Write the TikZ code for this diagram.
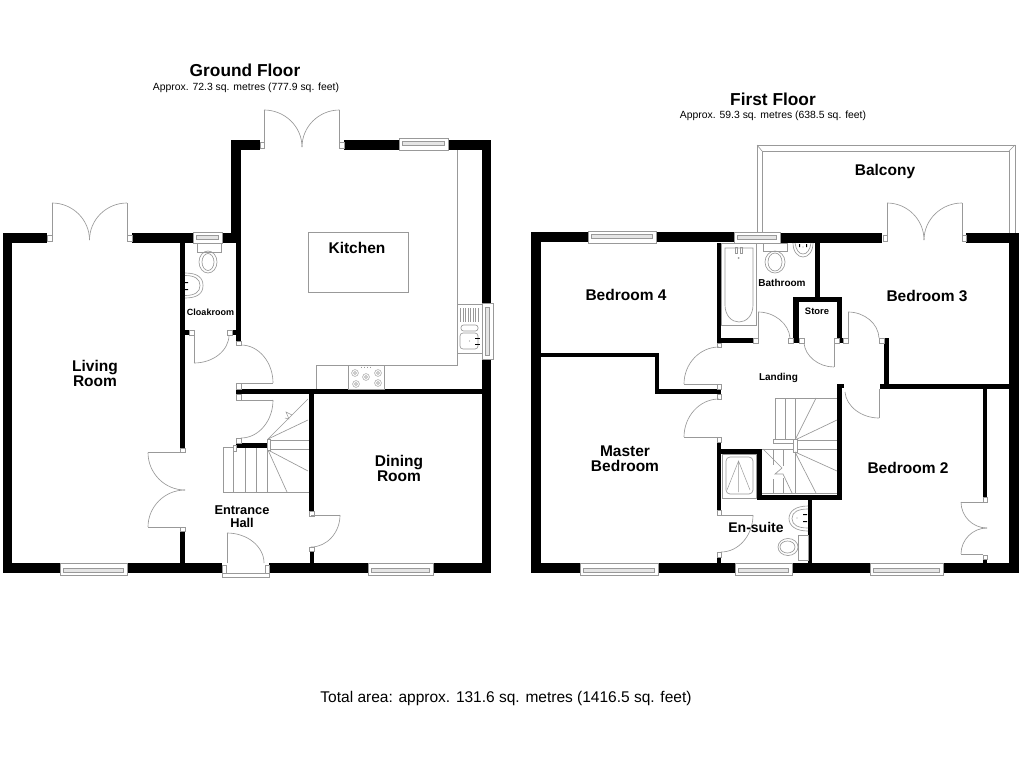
\documentclass[tikz,border=0pt]{standalone}
\usepackage{fontspec}
\setmainfont{Liberation Sans}
\usetikzlibrary{calc}
\definecolor{fx}{gray}{0.6}
\tikzset{
  every picture/.style={x=1pt,y=-1pt},
  fix/.style={draw=fx,line width=0.65pt,fill=none},
  fixw/.style={draw=fx,line width=0.65pt,fill=white},
  lbl/.style={inner sep=0pt,align=center,font=\bfseries\fontsize{15.5}{15}\selectfont},
}
\newcommand{\wall}[4]{\fill[black] (#1,#2) rectangle (#3,#4);}
\newcommand{\stub}[4]{\draw[fixw] (#1,#2) rectangle (#3,#4);}
\newcommand{\qc}[6]{\draw[fix] (#1,#2) .. controls ($(#1,#2)!.55!(#3,#4)$) and ($(#5,#6)!.55!(#3,#4)$) .. (#5,#6);}
\newcommand{\sg}[4]{\draw[fix] (#1,#2) -- (#3,#4);}
\newcommand{\hwin}[5]{\draw[fixw] (#1,#3) rectangle (#2,#4);
  \draw[fix,fill=black!10] ($(#1,#3)+(3.5,#5)$) rectangle ($(#2,#3)+(-3.5,#5+4)$);}
\begin{document}
\begin{tikzpicture}
\useasboundingbox (0,0) rectangle (1024,768);
\fill[white] (0,0) rectangle (1024,768);

% ---------- GROUND FLOOR walls
\wall{3}{233}{47}{243}
\wall{3}{233}{12}{573}
\wall{132}{233}{236}{243}
\wall{231}{140}{241}{243}
\wall{236}{243}{241}{341}
\wall{231}{140}{260}{150}
\wall{344}{140}{491}{150}
\wall{482}{140}{491}{573}
\wall{3}{563}{222}{573}
\wall{269}{563}{491}{573}
\wall{180}{243}{185}{448}
\wall{180}{531}{185}{563}
\wall{185}{330}{189}{335}
\wall{232}{330}{241}{335}
\wall{236}{389}{482}{394}
\wall{236}{443}{267}{448}
\wall{309}{389}{314}{511}
\wall{310}{551}{314}{563}

% windows
\hwin{193}{222}{232}{243}{3}
\hwin{399}{448}{138}{150}{3}
\hwin{60}{127}{563}{575}{5}
\hwin{368}{433}{563}{575}{5}
% side kitchen window
\draw[fixw] (482,303) rectangle (493,359);
\draw[fix,fill=black!10] (485,307) rectangle (489,355);

% living french doors
\stub{47}{235}{52}{241}\stub{127}{235}{132}{241}
\sg{52}{241}{52}{203}\sg{127}{241}{127}{203}
\qc{52}{203}{89.5}{203}{89.5}{240}\qc{127}{203}{89.5}{203}{89.5}{240}
% kitchen french doors
\stub{260}{142}{264}{148}\stub{339.5}{142}{344}{148}
\sg{264}{148}{264}{110}\sg{339.5}{148}{339.5}{110}
\qc{264}{110}{302}{110}{302}{147}\qc{339.5}{110}{302}{110}{302}{147}
% living/hall double doors
\stub{180}{448}{185}{452}\stub{180}{527}{185}{531}
\sg{180}{452.5}{148}{452.5}\sg{180}{527}{148}{527}
\qc{148}{452.5}{148}{490}{185}{490}\qc{148}{527}{148}{490}{185}{490}
% front door
\draw[fixw] (222,573) rectangle (269,577);
\stub{222}{565}{226}{573}\stub{265}{565}{269}{573}
\sg{227}{563}{227}{533}
\qc{227}{533}{264}{533}{264}{563}
% cloakroom door
\stub{189}{330}{194}{335}\stub{227}{330}{232}{335}
\sg{194}{335}{194}{363}
\qc{194}{363}{229}{363}{229}{335}
% kitchen door
\stub{236}{341}{241}{345}\stub{236}{383}{241}{389}
\sg{241}{383}{273}{383}
\qc{241}{345}{273}{345}{273}{383}
% lower door under stairs
\stub{236}{394}{241}{400}\stub{236}{438}{241}{443}
\sg{241}{400}{273}{400}
\qc{273}{400}{273}{438}{241}{438}
% dining door
\stub{309}{511}{314}{516}\stub{309}{547}{314}{551}
\sg{311}{515}{340}{515}
\qc{340}{515}{340}{547}{311}{547}

% stairs ground
\draw[fix] (233,447) -- (223,447) -- (223,492) -- (309,492);
\sg{233}{448}{233}{492}\sg{245}{448}{245}{492}\sg{256}{448}{256}{492}\sg{267}{448}{267}{492}
\sg{268}{440}{309}{440}\sg{268}{449}{309}{449}
\sg{268}{450}{287}{492}\sg{268}{450}{308}{471}
\sg{268}{439}{308}{420}\sg{268}{439}{308}{399}
\stub{267}{439}{270}{450}\stub{233}{445}{236}{451}
\draw[fix,line width=0.5pt] (285,418) -- (289,419) -- (286,412) -- (292,415);
% kitchen units
\draw[fix] (457,150) -- (457,365) -- (316,365) -- (316,389);
\draw[fix] (308,232) rectangle (408,292);
\draw[fix] (348,365) rectangle (384,389);
\foreach \a/\b in {355/373,366/377,378/373,356/384,378/383}{
  \draw[fix,line width=0.5pt] (\a,\b) circle[radius=3.4];
  \draw[fix,line width=0.5pt] (\a,\b) circle[radius=1.5];}
\foreach \a in {361,364,367,370}{\draw[fix,line width=0.5pt] (\a,366.5) -- (\a,367.5);}
% sink
\draw[fix] (457,304) rectangle (482,353);
\foreach \a in {460.5,463,465.5,468,470.5,473,475.5,478}{\draw[fix,line width=0.5pt] (\a,308) -- (\a,322);}
\draw[fix,rounded corners=2.5pt] (461,325) rectangle (478,331);
\draw[fix,rounded corners=3pt] (460,333) rectangle (478,349);
\draw[black,line width=0.8pt] (475,338) -- (480,338) (475,344) -- (480,344);
\fill[fx] (469.5,341) circle[radius=0.7];
% cloakroom WC
\draw[fixw] (197,243) rectangle (221,252);
\draw[fix] (208,262) ellipse[x radius=9,y radius=11];
\draw[fix] (208,262) ellipse[x radius=6,y radius=8.5];
% cloakroom basin
\draw[fix] (185,273) .. controls (198,273) and (203,278) .. (203,285.5) .. controls (203,293) and (198,298) .. (185,298);
\draw[fix] (185,275.5) .. controls (195,275.5) and (200,279) .. (200,285.5) .. controls (200,292) and (195,295.5) .. (185,295.5);
\fill[black] (185,282) rectangle (188,283) (185,289) rectangle (188,290);

% ---------- FIRST FLOOR balcony
\draw[fix] (757,233) -- (757,145) -- (1015,145) -- (1015,233);
\draw[fix] (762,233) -- (762,151) -- (1009,151) -- (1009,233);
\sg{757}{145}{762}{151}\sg{1015}{145}{1009}{151}

% first-floor walls
\wall{531}{232}{734}{242}
\wall{531}{232}{541}{573}
\wall{780}{233}{882}{243}
\wall{966}{233}{1019}{243}
\wall{1009}{233}{1019}{573}
\wall{531}{563}{1019}{573}
\wall{541}{353}{659}{357}
\wall{655}{353}{659}{394}
\wall{655}{389}{721}{394}
\wall{717}{243}{721}{343}
\wall{717}{338}{753}{343}
\wall{815}{243}{820}{297}
\wall{793}{297}{842}{302}
\wall{793}{297}{799}{343}
\wall{837}{297}{842}{338}
\wall{839}{338}{843}{343}
\wall{884}{338}{889}{389}
\wall{880}{384}{1009}{389}
\wall{983}{389}{987}{497}
\wall{983}{559}{987}{563}
\wall{837}{384}{842}{500}
\wall{837}{384}{844}{388}
\wall{717}{442}{721}{510}
\wall{717}{449}{762}{454}
\wall{757}{449}{762}{500}
\wall{757}{495}{842}{500}
\wall{808}{500}{812}{563}
\wall{717}{557}{721}{563}

% windows
\hwin{588}{656}{231}{243}{3}
\hwin{734}{780}{232}{243}{3}
\hwin{580}{658}{563}{575}{5}
\hwin{735}{792}{563}{575}{5}
\hwin{870}{943}{563}{575}{5}

% bedroom 3 french doors
\stub{883}{235}{887}{241}\stub{962}{235}{966}{241}
\sg{887}{241}{887}{203}\sg{962}{241}{962}{203}
\qc{887}{203}{924}{203}{924}{240}\qc{962}{203}{924}{203}{924}{240}
% bedroom 4 door
\stub{717}{343}{721}{347}\stub{717}{384}{721}{389}
\sg{721}{384}{684}{384}
\qc{684}{384}{684}{347}{719}{347}
% master door
\stub{717}{394}{721}{399}\stub{717}{437}{721}{442}
\sg{721}{437}{684}{437}
\qc{684}{437}{684}{399}{719}{399}
% bathroom door
\stub{753}{338}{758}{343}\stub{788}{338}{793}{343}
\sg{758}{338}{758}{312}
\qc{758}{312}{788}{312}{790}{338}
% store door
\stub{799}{338}{804}{343}\stub{834}{338}{839}{343}
\sg{834}{343}{834}{367}
\qc{804}{343}{806}{367}{834}{367}
% bedroom 3 door
\stub{843}{338}{848}{343}\stub{879}{338}{884}{343}
\sg{848}{338}{848}{312}
\qc{848}{312}{878}{312}{879}{338}
% bedroom 2 door
\sg{879}{389}{879}{418}
\qc{845}{392}{847}{418}{879}{418}
% en-suite door
\stub{717}{510}{721}{515}\stub{717}{552}{721}{557}
\sg{721}{515}{753}{515}
\qc{753}{515}{753}{552}{721}{552}
% cupboard doors bedroom 2
\stub{983}{497}{987}{502}\stub{983}{555}{987}{559}
\sg{983}{502}{961}{502}\sg{983}{554}{961}{554}
\qc{961}{502}{961}{528}{987}{528}\qc{961}{554}{961}{528}{987}{528}

% bath
\draw[fix] (721,243) rectangle (756,325);
\draw[fix] (725,248) -- (753,248) -- (753,305) .. controls (753,316) and (746,322) .. (739,322) .. controls (732,322) and (725,316) .. (725,305) -- cycle;
\draw[fix,line width=0.5pt] (735,247) rectangle (737,253) (740,247) rectangle (742,253);
\fill[fx] (738.5,258) circle[radius=1];
% bathroom WC, basin
\draw[fixw] (763,243) rectangle (787,251);
\draw[fix] (775,262) ellipse[x radius=10,y radius=11];
\draw[fix] (775,262) ellipse[x radius=7,y radius=9];
\draw[fix] (793,243) .. controls (793,252) and (798,257) .. (803,257) .. controls (808,257) and (813,252) .. (813,243);
\draw[fix] (795,243) .. controls (796,250) and (799,254) .. (803,254) .. controls (807,254) and (810,250) .. (811,243);
\fill[black] (799,244) rectangle (800,247) (806,244) rectangle (807,247);
\fill[fx] (803,247) circle[radius=0.7];

% stairs first floor
\draw[fix] (775,440) -- (775,398) -- (837,398);
\sg{785}{398}{785}{440}\sg{795}{398}{795}{440}
\sg{795}{440}{837}{440}\sg{762}{449}{837}{449}
\sg{795}{440}{816}{398}\sg{795}{440}{837}{420}
\draw[fixw] (773,439) rectangle (795,443);
\stub{793}{439}{797}{452}
\sg{773}{449}{773}{465}\sg{783}{449}{783}{466}\sg{783}{478}{783}{493}\sg{773}{479}{773}{493}
\sg{795}{452}{795}{493}
\sg{795}{452}{816}{493}\sg{795}{452}{837}{471}
\draw[fix] (762,493) -- (837,493);
\draw[fix] (763,449) -- (782,468) -- (775,474) -- (783,474) -- (792,493);
% shower
\draw[fix] (722,454) rectangle (756,498);
\draw[fix,rounded corners=4pt] (726,457) rectangle (753,494);
\draw[fix,line width=0.5pt] (727,490) -- (738.5,461) -- (750,490) (738.5,461) -- (738.5,492);
% en-suite basin, WC
\draw[fix] (808,506) .. controls (796,506) and (789,511) .. (789,518.5) .. controls (789,526) and (796,531) .. (808,531);
\draw[fix] (808,509) .. controls (798,509) and (792,512) .. (792,518.5) .. controls (792,525) and (798,528) .. (808,528);
\fill[black] (803,514) rectangle (807,515) (803,521) rectangle (807,522);
\fill[fx] (797,518) circle[radius=0.7];
\draw[fix] (798,535) rectangle (808,560);
\draw[fix] (788,547) ellipse[x radius=10,y radius=8.5];
\draw[fix] (787.5,547) ellipse[x radius=7.5,y radius=6];

% ---------- TEXT
\node (gf) at (245,70) [lbl,font=\bfseries\fontsize{17.3}{17}\selectfont] {Ground Floor};
\node (gfs) at (246,87.5) [inner sep=0pt,font=\fontsize{10.4}{10}\selectfont] {Approx. 72.3 sq. metres (777.9 sq. feet)};
\node (ff) at (773,99) [lbl,font=\bfseries\fontsize{17.3}{17}\selectfont] {First Floor};
\node (ffs) at (773,115.5) [inner sep=0pt,font=\fontsize{10.4}{10}\selectfont] {Approx. 59.3 sq. metres (638.5 sq. feet)};
\node (tot) at (506,698.5) [inner sep=0pt,font=\fontsize{15.5}{15}\selectfont] {Total area: approx. 131.6 sq. metres (1416.5 sq. feet)};
\node (living) at (95,373.5) [lbl] {Living\\[0pt]Room};
\node (kitchen) at (357,248) [lbl] {Kitchen};
\node (dining) at (399,468.5) [lbl] {Dining\\[0pt]Room};
\node (hall) at (242,516.5) [lbl,font=\bfseries\fontsize{12.8}{13}\selectfont] {Entrance\\[0pt]Hall};
\node (cloak) at (210.5,312) [lbl,font=\bfseries\fontsize{9}{9}\selectfont] {Cloakroom};
\node (balcony) at (885,171) [lbl] {Balcony};
\node (bed4) at (626,295) [lbl] {Bedroom 4};
\node (bed3) at (927,296) [lbl] {Bedroom 3};
\node (bed2) at (908,468) [lbl] {Bedroom 2};
\node (master) at (625,458.5) [lbl] {Master\\[0pt]Bedroom};
\node (bath) at (782,283) [lbl,font=\bfseries\fontsize{10}{10}\selectfont] {Bathroom};
\node (store) at (817,311) [lbl,font=\bfseries\fontsize{9.4}{10}\selectfont] {Store};
\node (landing) at (778.5,378) [lbl,font=\bfseries\fontsize{10}{10}\selectfont] {Landing};
\node (ensuite) at (756,527) [lbl,font=\bfseries\fontsize{14}{14}\selectfont] {En-suite};
\end{tikzpicture}
\end{document}
